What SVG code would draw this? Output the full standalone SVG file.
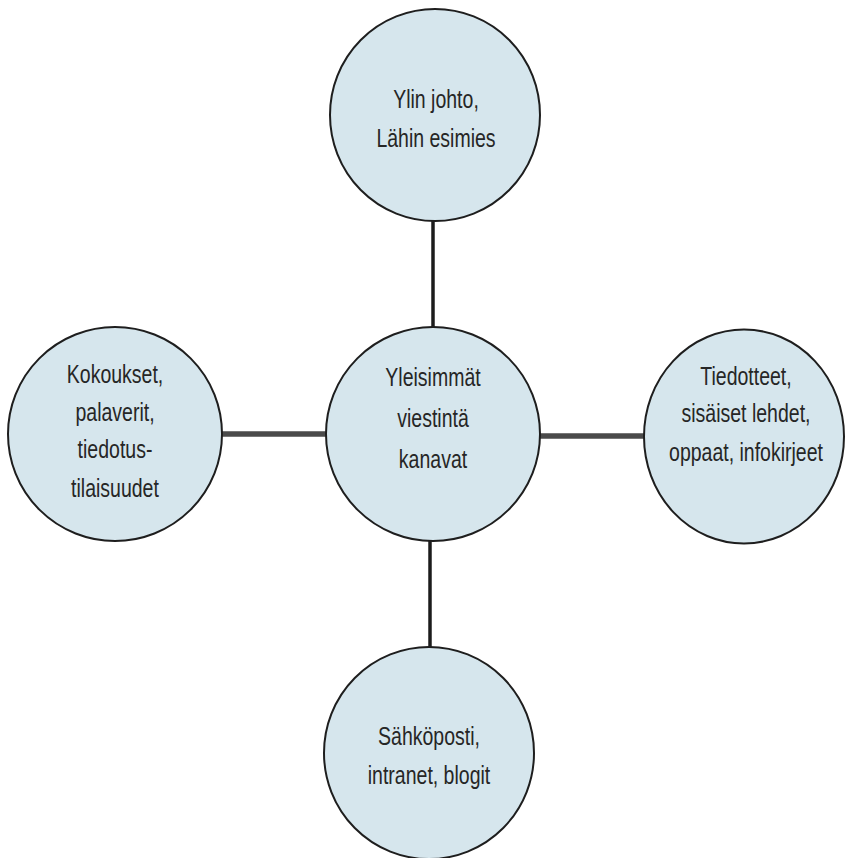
<svg xmlns="http://www.w3.org/2000/svg" width="846" height="858" viewBox="0 0 846 858">
<style>
.node{fill:#d6e6ed;stroke:#1e1e1e;stroke-width:2}
.lbl{font-family:"Liberation Sans",Arial,sans-serif;font-size:26px;fill:#262626;text-anchor:middle}
.v{stroke:#1c1c1c;stroke-width:3.5}
.h{stroke:#4a4a4a;stroke-width:5.5}
</style>
<rect width="846" height="858" fill="#ffffff"/>
<g id="connectors">
<line class="v" x1="433" y1="221" x2="433" y2="327"/>
<line class="v" x1="430" y1="541" x2="430" y2="647"/>
<line class="h" x1="221" y1="434" x2="327" y2="434"/>
<line class="h" x1="540" y1="436" x2="645" y2="436"/>
</g>
<g id="top">
<ellipse class="node" cx="435" cy="115" rx="105" ry="106"/>
<g transform="translate(436,0) scale(0.75,1)">
<text class="lbl" x="0" y="108">Ylin johto,</text>
<text class="lbl" x="0" y="147">Lähin esimies</text>
</g>
</g>
<g id="center">
<ellipse class="node" cx="433" cy="434" rx="107" ry="107"/>
<g transform="translate(433,0) scale(0.75,1)">
<text class="lbl" x="0" y="386">Yleisimmät</text>
<text class="lbl" x="0" y="427">viestintä</text>
<text class="lbl" x="0" y="468">kanavat</text>
</g>
</g>
<g id="left">
<ellipse class="node" cx="115" cy="434" rx="107" ry="107"/>
<g transform="translate(115,0) scale(0.75,1)">
<text class="lbl" x="0" y="383">Kokoukset,</text>
<text class="lbl" x="0" y="421">palaverit,</text>
<text class="lbl" x="0" y="458">tiedotus-</text>
<text class="lbl" x="0" y="497">tilaisuudet</text>
</g>
</g>
<g id="right">
<ellipse class="node" cx="744" cy="436.5" rx="100" ry="107"/>
<g transform="translate(746,0) scale(0.75,1)">
<text class="lbl" x="0" y="385">Tiedotteet,</text>
<text class="lbl" x="0" y="422">sisäiset lehdet,</text>
<text class="lbl" x="0" y="461">oppaat, infokirjeet</text>
</g>
</g>
<g id="bottom">
<ellipse class="node" cx="429" cy="753" rx="105" ry="106"/>
<g transform="translate(429,0) scale(0.75,1)">
<text class="lbl" x="0" y="745">Sähköposti,</text>
<text class="lbl" x="0" y="784">intranet, blogit</text>
</g>
</g>
</svg>
